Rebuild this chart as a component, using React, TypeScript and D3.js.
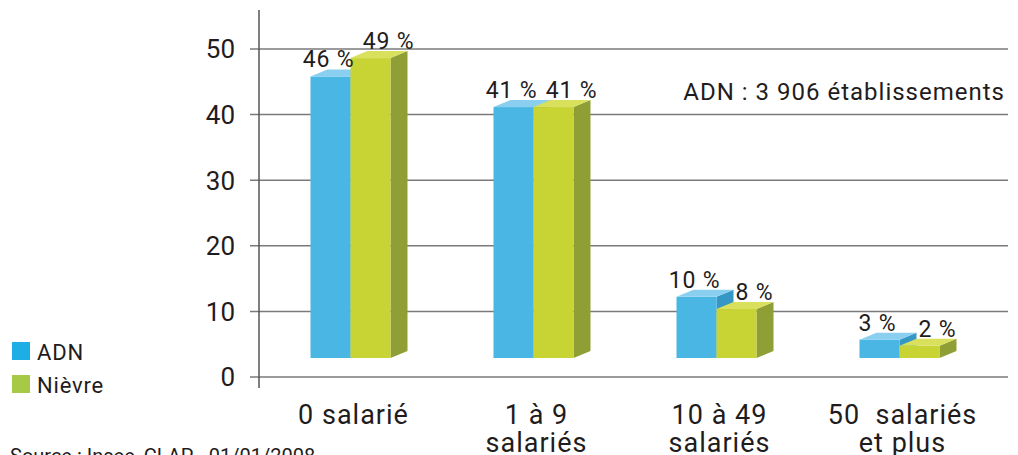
import { useEffect, useRef } from 'react';
import * as d3 from 'd3';

const categories = ['0 salarié', '1 à 9|salariés', '10 à 49|salariés', '50  salariés|et plus'];
const adnValues = [46, 41, 10, 3];
const nievreValues = [49, 41, 8, 2];
const yTicks = [0, 10, 20, 30, 40, 50];
const seriesNames = ['ADN', 'Nièvre'];

const FONT = 'Roboto, "DejaVu Sans", sans-serif';
const INK = '#1f1c1d';

function App() {
  const ref = useRef<SVGSVGElement>(null);

  useEffect(() => {
    const w = 1018;
    const h = 455;
    const axisX = 259;
    const gridRight = 1008;
    const depthX = 17;
    const depthY = 7;
    const barW = 40;

    const svg = d3.select(ref.current).attr('width', w).attr('height', h);
    svg.selectAll('*').remove();

    const y = d3.scaleLinear().domain([0, 50]).range([377, 49]);
    // bars sit on a 3D floor, a bit above the zero line
    const yBar = d3.scaleLinear().domain([0, 50]).range([358, 52]);
    const x = d3.scaleBand().domain(categories).range([axisX, 991]).padding(0);

    // grid + ticks
    svg
      .append('g')
      .selectAll('line')
      .data(yTicks)
      .join('line')
      .attr('x1', axisX - 9)
      .attr('x2', gridRight)
      .attr('y1', d => y(d))
      .attr('y2', d => y(d))
      .attr('stroke', '#7a7a7a')
      .attr('stroke-width', 1.5);

    svg
      .append('line')
      .attr('x1', axisX)
      .attr('x2', axisX)
      .attr('y1', 10)
      .attr('y2', 388)
      .attr('stroke', '#555')
      .attr('stroke-width', 1.5);

    svg
      .append('g')
      .selectAll('text')
      .data(yTicks)
      .join('text')
      .attr('x', 235)
      .attr('y', d => y(d))
      .attr('dy', '0.36em')
      .attr('text-anchor', 'end')
      .attr('font-family', FONT)
      .attr('font-size', 26)
      .attr('fill', INK)
      .text(d => d);

    const colors = [
      { front: '#4ab6e4', top: '#8acff0', side: '#3597c6' },
      { front: '#c7d433', top: '#d8e05c', side: '#8f9f36' },
    ];

    const bars: { cat: string; s: number; v: number }[] = [];
    categories.forEach((c, i) => {
      bars.push({ cat: c, s: 0, v: adnValues[i] });
      bars.push({ cat: c, s: 1, v: nievreValues[i] });
    });

    const center = (c: string) => (x(c) as number) + x.bandwidth() / 2;

    const g = svg.append('g');
    bars.forEach(b => {
      const x0 = center(b.cat) - barW + b.s * barW;
      const x1 = x0 + barW;
      const yt = yBar(b.v);
      const yb = yBar(0);
      const col = colors[b.s];
      g.append('polygon')
        .attr('points', `${x1},${yt} ${x1 + depthX},${yt - depthY} ${x1 + depthX},${yb - depthY} ${x1},${yb}`)
        .attr('fill', col.side);
      g.append('rect')
        .attr('x', x0)
        .attr('y', yt)
        .attr('width', barW)
        .attr('height', yb - yt)
        .attr('fill', col.front);
      g.append('polygon')
        .attr('points', `${x0},${yt} ${x1},${yt} ${x1 + depthX},${yt - depthY} ${x0 + depthX},${yt - depthY}`)
        .attr('fill', col.top);
    });

    // value labels
    svg
      .append('g')
      .selectAll('text')
      .data(bars)
      .join('text')
      .attr('x', b => center(b.cat) - barW / 2 + b.s * barW + (b.s ? 18 : -2))
      .attr('y', b => yBar(b.v) - depthY - 2)
      .attr('text-anchor', 'middle')
      .attr('font-family', FONT)
      .attr('font-size', 23)
      .attr('letter-spacing', 0.8)
      .attr('fill', INK)
      .text(b => `${b.v} %`);

    // category labels
    const cl = svg
      .append('g')
      .selectAll('text')
      .data(categories)
      .join('text')
      .attr('y', 424)
      .attr('text-anchor', 'middle')
      .attr('font-family', FONT)
      .attr('font-size', 27)
      .attr('letter-spacing', 1)
      .attr('fill', INK)
      .attr('xml:space', 'preserve');
    cl.each(function (c) {
      const t = d3.select(this);
      c.split('|').forEach((line, i) => {
        t.append('tspan')
          .attr('x', center(c) + 3)
          .attr('dy', i === 0 ? 0 : 28)
          .text(line);
      });
    });

    // annotation
    svg
      .append('text')
      .attr('x', 1005)
      .attr('y', 100)
      .attr('text-anchor', 'end')
      .attr('font-family', FONT)
      .attr('font-size', 24)
      .attr('letter-spacing', 1)
      .attr('fill', INK)
      .text('ADN : 3 906 établissements');

    // legend
    const legendColors = ['#1eaee6', '#a6ca45'];
    const lg = svg.append('g');
    seriesNames.forEach((n, i) => {
      lg.append('rect')
        .attr('x', 12)
        .attr('y', 342 + i * 33)
        .attr('width', 18)
        .attr('height', 18)
        .attr('fill', legendColors[i]);
      lg.append('text')
        .attr('x', 37)
        .attr('y', 360 + i * 33)
        .attr('font-family', FONT)
        .attr('font-size', 22)
        .attr('letter-spacing', 0.8)
        .attr('fill', INK)
        .text(n);
    });

    svg
      .append('text')
      .attr('x', 10)
      .attr('y', 463)
      .attr('font-family', FONT)
      .attr('font-size', 20)
      .attr('fill', INK)
      .text('Source : Insee, CLAP - 01/01/2008');

    return () => {
      svg.selectAll('*').remove();
    };
  }, []);

  return (
    <svg
      ref={ref}
      style={{ position: 'absolute', left: 0, top: 0, background: '#fff' }}
      role="img"
      aria-label="Établissements par taille, ADN et Nièvre"
    />
  );
}

export default App;
